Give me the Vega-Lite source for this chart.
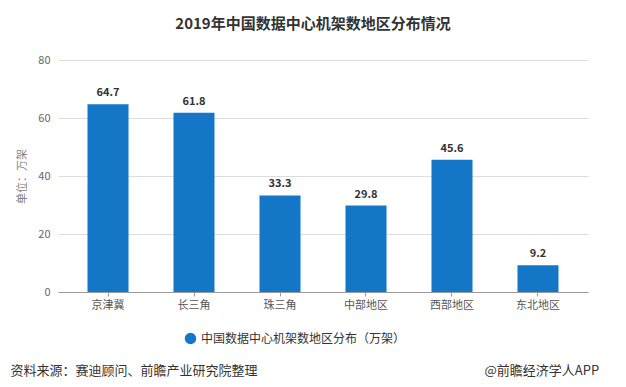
{
  "$schema": "https://vega.github.io/schema/vega-lite/v6.json",
  "width": 530,
  "height": 232,
  "autosize": "none",
  "padding": {"left": 58, "top": 60, "right": 38, "bottom": 95},
  "background": "white",
  "config": {
    "font": "Noto Sans CJK SC",
    "view": {"stroke": null}
  },
  "title": {
    "text": "2019年中国数据中心机架数地区分布情况",
    "font": "Noto Sans CJK SC",
    "fontSize": 15,
    "fontWeight": "bold",
    "color": "#333333",
    "anchor": "middle",
    "dx": -10,
    "offset": 22
  },
  "data": {
    "values": [
      {"region": "京津冀", "v": 64.7},
      {"region": "长三角", "v": 61.8},
      {"region": "珠三角", "v": 33.3},
      {"region": "中部地区", "v": 29.8},
      {"region": "西部地区", "v": 45.6},
      {"region": "东北地区", "v": 9.2}
    ]
  },
  "encoding": {
    "x": {
      "field": "region",
      "type": "nominal",
      "sort": null,
      "scale": {"paddingInner": 0.523, "paddingOuter": 0.343},
      "axis": {
        "title": "资料来源：赛迪顾问、前瞻产业研究院整理",
        "titleFont": "Noto Sans CJK SC",
        "titleFontSize": 13,
        "titleFontWeight": "normal",
        "titleColor": "#333333",
        "titleAnchor": "start",
        "titleAlign": "left",
        "titleBaseline": "middle",
        "titleX": -48,
        "titleY": 78,
        "labelAngle": 0,
        "labelFontSize": 11,
        "labelColor": "#555555",
        "labelPadding": 3,
        "tickSize": 4,
        "tickColor": "#999999",
        "domainColor": "#999999",
        "grid": false
      }
    },
    "y": {
      "field": "v",
      "type": "quantitative",
      "scale": {"domain": [0, 80]}
    }
  },
  "layer": [
    {
      "mark": {"type": "bar", "color": "#1476c6"},
      "encoding": {
        "color": {
          "datum": "中国数据中心机架数地区分布（万架）",
          "scale": {"range": ["#1476c6"]},
          "legend": {
            "title": null,
            "orient": "none",
            "legendX": 126,
            "legendY": 272,
            "direction": "horizontal",
            "symbolType": "circle",
            "symbolSize": 130,
            "labelFontSize": 12,
            "labelLimit": 400,
            "labelColor": "#333333",
            "labelFont": "Noto Sans CJK SC"
          }
        },
        "y": {
          "field": "v",
          "type": "quantitative",
          "scale": {"domain": [0, 80]},
          "axis": {
            "values": [0, 20, 40, 60, 80],
            "title": "单位：万架",
            "titleFontSize": 11,
            "titleFontWeight": "normal",
            "titleColor": "#808080",
            "titlePadding": 10,
            "labelFontSize": 11,
            "labelColor": "#666666",
            "labelPadding": 8,
            "tickSize": 0,
            "domain": false,
            "gridColor": "#dddddd"
          }
        }
      }
    },
    {
      "mark": {"type": "text", "baseline": "bottom", "dy": -6, "fontSize": 11, "fontWeight": "bold", "color": "#333333"},
      "encoding": {
        "text": {"field": "v", "type": "quantitative", "format": ".1f"},
        "y": {
          "field": "v",
          "type": "quantitative",
          "axis": {
            "orient": "right",
            "labels": false,
            "ticks": false,
            "domain": false,
            "grid": false,
            "title": "@前瞻经济学人APP",
            "titleFont": "Noto Sans CJK SC",
            "titleFontSize": 13,
            "titleFontWeight": "normal",
            "titleColor": "#333333",
            "titleAngle": 0,
            "titleAlign": "left",
            "titleBaseline": "middle",
            "titleX": -104,
            "titleY": 310
          }
        }
      }
    }
  ],
  "resolve": {"axis": {"y": "independent"}}
}
